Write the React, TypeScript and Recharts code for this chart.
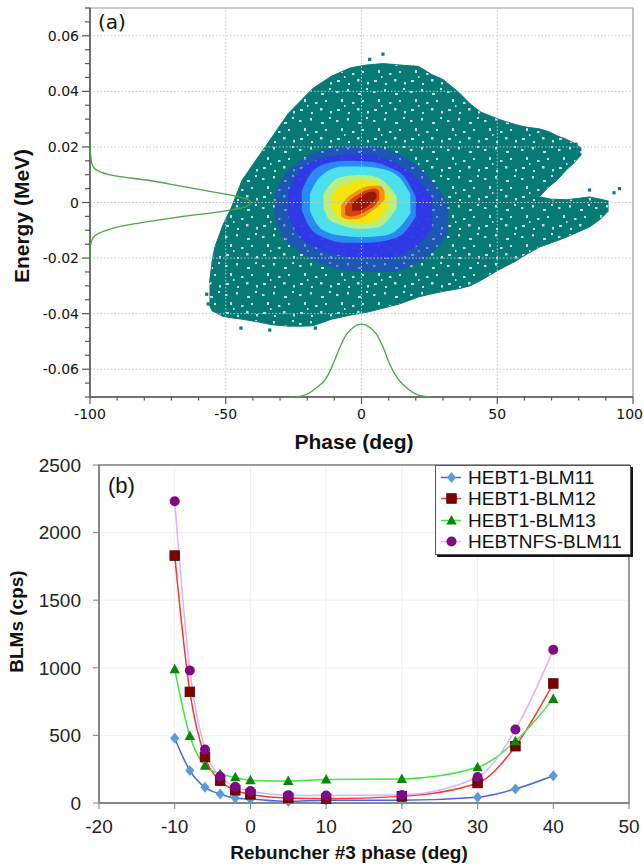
import React from "react";
import {
  ComposedChart,
  LineChart,
  Line,
  Area,
  Scatter,
  XAxis,
  YAxis,
  CartesianGrid,
  ReferenceLine,
  ReferenceArea,
  Legend,
  Customized,
} from "recharts";

// ---------- panel (a): phase space ----------
const phaseTicks = [-100, -90, -80, -70, -60, -50, -40, -30, -20, -10, 0, 10, 20, 30, 40, 50, 60, 70, 80, 90, 100];
const phaseLabels = [-100, -50, 0, 50, 100];
const energyTicks = [
  -0.07, -0.065, -0.06, -0.055, -0.05, -0.045, -0.04, -0.035, -0.03, -0.025, -0.02, -0.015, -0.01, -0.005, 0,
  0.005, 0.01, 0.015, 0.02, 0.025, 0.03, 0.035, 0.04, 0.045, 0.05, 0.055, 0.06, 0.065, 0.07,
];
const energyLabels = [-0.06, -0.04, -0.02, 0, 0.02, 0.04, 0.06];

// [phase, low energy, high energy] envelopes
const tealBody = [
  [-56, -0.037, -0.029], [-55, -0.039, -0.021], [-54, -0.0395, -0.016], [-51, -0.041, -0.008],
  [-48, -0.0415, -0.002], [-44, -0.042, 0.008], [-38, -0.043, 0.0165], [-33, -0.044, 0.0235],
  [-27, -0.0445, 0.032], [-22, -0.0445, 0.037], [-18, -0.0444, 0.041], [-11, -0.042, 0.0455],
  [-4, -0.0405, 0.0485], [2, -0.0395, 0.0495], [8, -0.038, 0.05], [14, -0.0365, 0.0495],
  [21, -0.034, 0.049], [26, -0.0328, 0.046], [30, -0.032, 0.0443], [36, -0.031, 0.0395],
  [40, -0.03, 0.0355], [44, -0.028, 0.0325], [51, -0.024, 0.0298], [57, -0.021, 0.028],
  [61, -0.0185, 0.027], [62, -0.018, 0.003], [65.6, -0.016, 0.002], [70, -0.0145, 0.0012],
  [75.4, -0.0125, 0.001], [80, -0.0105, 0.0015], [84, -0.0088, 0.002], [88, -0.006, 0.0012],
  [91, -0.003, 0.0005],
];
const tealWing = [
  [60, 0.003, 0.0272], [65.6, 0.0022, 0.0265], [69, 0.0057, 0.0255], [72, 0.008, 0.024],
  [75.4, 0.0117, 0.0228], [78, 0.014, 0.0215], [81, 0.0172, 0.0195],
];
const blueSparse = [
  [-32, -0.005, 0.003], [-29, -0.012, 0.009], [-24, -0.017, 0.014], [-17, -0.021, 0.018],
  [-8, -0.024, 0.02], [0, -0.025, 0.0205], [10, -0.025, 0.019], [18, -0.023, 0.015],
  [25, -0.019, 0.009], [29, -0.015, 0.004], [32, -0.011, -0.001],
];
const blueDense = [
  [-27, -0.005, 0.004], [-23, -0.012, 0.011], [-17, -0.016, 0.015], [-8, -0.019, 0.017],
  [0, -0.02, 0.0175], [8, -0.02, 0.016], [16, -0.018, 0.012], [22, -0.014, 0.007], [26, -0.009, 0.002],
];
const skyRing = [
  [-22, -0.003, 0.004], [-19, -0.009, 0.01], [-13, -0.013, 0.014], [-6, -0.0145, 0.015],
  [2, -0.0145, 0.0148], [10, -0.0135, 0.0128], [16, -0.0105, 0.009], [20, -0.005, 0.002],
];
const cyanRing = [
  [-19, -0.003, 0.003], [-17, -0.007, 0.007], [-13, -0.0105, 0.011], [-7, -0.012, 0.013],
  [0, -0.0125, 0.013], [8, -0.012, 0.012], [14, -0.009, 0.009], [18, -0.004, 0.003],
];
const limeRing = [
  [-14, -0.002, 0.003], [-12, -0.006, 0.006], [-8, -0.008, 0.009], [0, -0.0095, 0.01],
  [6, -0.009, 0.009], [10, -0.006, 0.006], [13, -0.002, 0.002],
];
const yellowCore = [
  [-11, -0.002, 0.002], [-9, -0.005, 0.005], [-5, -0.007, 0.007], [0, -0.0075, 0.008],
  [5, -0.007, 0.0075], [8, -0.004, 0.005], [10, -0.001, 0.002],
];
const orangeCore = [
  [-7.5, -0.005, -0.001], [-5, -0.006, 0.002], [-2, -0.006, 0.004], [1, -0.005, 0.0055],
  [4, -0.003, 0.006], [7, -0.0005, 0.006], [8.5, 0.001, 0.004],
];
const redCore = [
  [-6, -0.0045, -0.0015], [-4, -0.005, 0.001], [-1, -0.0045, 0.003], [2, -0.003, 0.0045],
  [5, -0.001, 0.005], [6.5, 0.001, 0.004],
];
const darkCore = [
  [-3.5, -0.003, -0.0005], [-1, -0.003, 0.0015], [2, -0.0015, 0.0035], [4.5, 0.0005, 0.004],
  [5.5, 0.0015, 0.003],
];
const strayParticles = [
  [7.9, 0.0534], [3, 0.0515], [95, 0.005], [93, 0.0035], [90, -0.0025], [-44.4, -0.0452],
  [-33.8, -0.0459], [-17, -0.0452], [-57, -0.033], [-56.5, -0.0365], [84, 0.0045], [79, 0.021],
];

// projections (energy profile on the left, phase profile at the bottom)
const energyProfile = [
  [-100, 0.0214], [-99.6, 0.0155], [-98.8, 0.0128], [-96.4, 0.0111], [-93, 0.01], [-89, 0.0093],
  [-79.3, 0.0081], [-67.1, 0.006], [-54.9, 0.0038], [-46.4, 0.0023], [-42.2, 0.0012], [-40.9, 0.0002],
  [-42.7, -0.0016], [-50, -0.003], [-67, -0.0052], [-83, -0.0076], [-90, -0.0089], [-94, -0.01],
  [-97, -0.0112], [-98.8, -0.0125], [-99.6, -0.0145], [-100, -0.0165], [-100, -0.0209],
];
const phaseProfile = [
  [-25, -0.07], [-20.3, -0.0691], [-16.6, -0.0667], [-12.9, -0.0631], [-10.5, -0.0582], [-8, -0.0522],
  [-5.5, -0.0474], [-3.1, -0.045], [0, -0.0438], [3.1, -0.045], [5.5, -0.0474], [8, -0.0522],
  [10.4, -0.0582], [13.5, -0.0636], [17.2, -0.0672], [20.9, -0.0693], [25.2, -0.07],
];

// ---------- panel (b): BLM scan ----------
const rebuncherPhase = [-10, -8, -6, -4, -2, 0, 5, 10, 20, 30, 35, 40];
const hebt1Blm11 = [479, 240, 116, 67, 37, 30, 12, 20, 20, 42, 104, 202];
const hebt1Blm12 = [1830, 822, 340, 165, 94, 64, 37, 32, 49, 148, 420, 884];
const hebt1Blm13 = [990, 495, 276, 215, 190, 168, 163, 173, 178, 264, 457, 770];
const hebtnfsBlm11 = [2232, 980, 395, 196, 120, 88, 58, 55, 60, 192, 543, 1133];
const scanTicks = [-20, -10, 0, 10, 20, 30, 40, 50];
const blmTicks = [0, 500, 1000, 1500, 2000, 2500];

const ARIAL = "'Liberation Sans', Arial, sans-serif";
const DEJAVU = "'DejaVu Sans', Verdana, sans-serif";
const TEAL = "#077a76";

const band = (rows: number[][]) => rows.map(([x, lo, hi]) => ({ x, band: [lo, hi] }));
const pts = (rows: number[][]) => rows.map(([x, y]) => ({ x, y }));

const densityLayers = [
  { id: "teal", rows: tealBody, color: "url(#speckle)", edge: TEAL, opacity: 1 },
  { id: "wing", rows: tealWing, color: "url(#speckle)", edge: TEAL, opacity: 1 },
  { id: "blue1", rows: blueSparse, color: "#3234ee", edge: "none", opacity: 0.5 },
  { id: "blue2", rows: blueDense, color: "#3234ee", edge: "none", opacity: 0.85 },
  { id: "sky", rows: skyRing, color: "#2a8ef4", edge: "none", opacity: 0.95 },
  { id: "cyan", rows: cyanRing, color: "#4ae0ec", edge: "none", opacity: 1 },
  { id: "lime", rows: limeRing, color: "#b8ef80", edge: "none", opacity: 1 },
  { id: "yellow", rows: yellowCore, color: "#f3e60e", edge: "none", opacity: 1 },
  { id: "orange", rows: orangeCore, color: "#f09414", edge: "none", opacity: 1 },
  { id: "red", rows: redCore, color: "#d8400e", edge: "none", opacity: 1 },
  { id: "dark", rows: darkCore, color: "#961808", edge: "none", opacity: 1 },
];

// white gaps in the speckle texture: [x, y, w, h] inside one tile
const speckles = [
  [3, 4, 2.5, 2], [14, 2, 2, 2.5], [25, 6, 3, 2], [33, 1, 2, 2], [8, 12, 2, 3], [19, 15, 2.5, 2],
  [29, 13, 2, 2], [4, 22, 3, 2], [15, 25, 2, 2], [24, 21, 2.5, 2.5], [34, 24, 2, 2.5], [11, 18, 1.5, 2],
];

const blmRows = rebuncherPhase.map((p, i) => ({
  phase: p,
  blm11: hebt1Blm11[i],
  blm12: hebt1Blm12[i],
  blm13: hebt1Blm13[i],
  nfs11: hebtnfsBlm11[i],
}));

const blmSeries = [
  { key: "blm11", name: "HEBT1-BLM11", line: "#4563e6", fill: "#5b9bd5", marker: "diamond" },
  { key: "blm12", name: "HEBT1-BLM12", line: "#ff3434", fill: "#7f0000", marker: "square" },
  { key: "blm13", name: "HEBT1-BLM13", line: "#3ee83e", fill: "#0a860a", marker: "triangle" },
  { key: "nfs11", name: "HEBTNFS-BLM11", line: "#d6b4fb", fill: "#7e0a86", marker: "circle" },
];

const near = (list: number[], v: number) => list.some((m) => Math.abs(m - v) < 1e-9);

function PhaseTick(props: any) {
  const { x, y, payload } = props;
  const major = near(phaseLabels, payload.value);
  const last = payload.value === 100;
  return (
    <g>
      <line x1={x} y1={y} x2={x} y2={y + (major ? 7 : 3.5)} stroke="#555" strokeWidth={1.2} />
      {major && (
        <text
          x={last ? x + 10 : x}
          y={y + 21.5}
          textAnchor={last ? "end" : "middle"}
          fontFamily={DEJAVU}
          fontSize={14}
          fill="#111"
        >
          {String(payload.value)}
        </text>
      )}
    </g>
  );
}

function EnergyTick(props: any) {
  const { x, y, payload } = props;
  const major = near(energyLabels, payload.value);
  return (
    <g>
      <line x1={x} y1={y} x2={x - (major ? 8 : 5)} y2={y} stroke="#555" strokeWidth={1.2} />
      {major && (
        <text x={x - 11} y={y + 5} textAnchor="end" fontFamily={DEJAVU} fontSize={14} fill="#111">
          {String(Math.abs(payload.value) < 1e-12 ? 0 : payload.value)}
        </text>
      )}
    </g>
  );
}

const NoDot = () => <g />;
const Particle = (props: any) => <rect x={props.cx - 1.6} y={props.cy - 1.6} width={3.2} height={3.2} fill={TEAL} />;

function Marker({ kind, cx, cy, fill }: { kind: string; cx: number; cy: number; fill: string }) {
  if (kind === "diamond")
    return <polygon points={`${cx},${cy - 5.5} ${cx + 4.5},${cy} ${cx},${cy + 5.5} ${cx - 4.5},${cy}`} fill={fill} />;
  if (kind === "square")
    return <rect x={cx - 4.8} y={cy - 4.8} width={9.6} height={9.6} fill={fill} stroke="#560000" strokeWidth={0.8} />;
  if (kind === "triangle")
    return <polygon points={`${cx},${cy - 5.5} ${cx + 5.2},${cy + 4} ${cx - 5.2},${cy + 4}`} fill={fill} />;
  return <circle cx={cx} cy={cy} r={5} fill={fill} />;
}

function BlmLegend() {
  return (
    <div
      style={{
        border: "1px solid #555",
        boxShadow: "2px 2px 0 #151515",
        background: "#fff",
        padding: "1px 0 2px",
        fontFamily: ARIAL,
        fontSize: 19,
        lineHeight: "21.3px",
        color: "#111",
      }}
    >
      {blmSeries.map((s) => (
        <div key={s.key} style={{ display: "flex", alignItems: "center", whiteSpace: "nowrap" }}>
          <svg width={32} height={21} style={{ flex: "none" }}>
            <line x1={5} x2={25} y1={10.5} y2={10.5} stroke={s.line} strokeWidth={1.5} />
            <Marker kind={s.marker} cx={15.5} cy={10.5} fill={s.fill} />
          </svg>
          <span>{s.name}</span>
        </div>
      ))}
    </div>
  );
}

// speckle texture for the low-density part of the particle cloud
const TopDecor = () => (
  <g>
    <defs>
      <pattern id="speckle" width={37} height={29} patternUnits="userSpaceOnUse">
        <rect width={37} height={29} fill={TEAL} />
        {speckles.map(([x, y, w, h], i) => (
          <rect key={i} x={x} y={y} width={w} height={h} fill="#fff" opacity={0.75} />
        ))}
      </pattern>
    </defs>
    <text x={98} y={29} fontFamily={DEJAVU} fontSize={20} fill="#111">(a)</text>
    <text x={354} y={449} textAnchor="middle" fontFamily={ARIAL} fontWeight="bold" fontSize={21} fill="#111">
      Phase (deg)
    </text>
    <text
      x={29}
      y={216}
      transform="rotate(-90 29 216)"
      textAnchor="middle"
      fontFamily={ARIAL}
      fontWeight="bold"
      fontSize={21}
      fill="#111"
    >
      Energy (MeV)
    </text>
  </g>
);

const BottomTitles = () => (
  <g>
    <text x={108} y={38} fontFamily={ARIAL} fontSize={22} fill="#111">(b)</text>
    <text x={349} y={404} textAnchor="middle" fontFamily={ARIAL} fontWeight="bold" fontSize={19} fill="#111">
      Rebuncher #3 phase (deg)
    </text>
    <text
      x={22.5}
      y={166.5}
      transform="rotate(-90 22.5 166.5)"
      textAnchor="middle"
      fontFamily={ARIAL}
      fontWeight="bold"
      fontSize={19}
      fill="#111"
    >
      BLMs (cps)
    </text>
  </g>
);

function PhaseSpacePanel() {
  return (
    <ComposedChart width={644} height={460} margin={{ top: 8, right: 11, bottom: 33, left: 30 }}>
      <XAxis
        type="number"
        dataKey="x"
        domain={[-100, 100]}
        ticks={phaseTicks}
        interval={0}
        tick={<PhaseTick />}
        tickLine={false}
        tickSize={0}
        tickMargin={0}
        axisLine={{ stroke: "#555", strokeWidth: 1.5 }}
        height={30}
        allowDataOverflow
      />
      <YAxis
        type="number"
        dataKey="y"
        domain={[-0.07, 0.07]}
        ticks={energyTicks}
        interval={0}
        tick={<EnergyTick />}
        tickLine={false}
        tickSize={0}
        tickMargin={0}
        axisLine={{ stroke: "#555", strokeWidth: 1.5 }}
        width={60}
        allowDataOverflow
      />
      {densityLayers.map((l) => (
        <Area
          key={l.id}
          data={band(l.rows)}
          dataKey="band"
          type={l.id === "teal" || l.id === "wing" ? "linear" : "monotone"}
          fill={l.color}
          fillOpacity={l.opacity}
          stroke={l.edge}
          strokeWidth={1}
          dot={false}
          activeDot={false}
          isAnimationActive={false}
        />
      ))}
      <Scatter data={pts(strayParticles)} shape={<Particle />} isAnimationActive={false} />
      {phaseLabels.slice(1, 4).map((v) => (
        <ReferenceLine key={`gx${v}`} x={v} stroke="#c4c4c4" strokeDasharray="1.5 2" />
      ))}
      {energyLabels.map((v) => (
        <ReferenceLine key={`gy${v}`} y={v} stroke="#c4c4c4" strokeDasharray="1.5 2" />
      ))}
      <Scatter
        data={pts(energyProfile)}
        shape={<NoDot />}
        fill="#46a646"
        line={{ stroke: "#46a646", strokeWidth: 1.3 }}
        lineJointType="monotoneY"
        isAnimationActive={false}
      />
      <Scatter
        data={pts(phaseProfile)}
        shape={<NoDot />}
        fill="#46a646"
        line={{ stroke: "#46a646", strokeWidth: 1.3 }}
        lineJointType="monotoneX"
        isAnimationActive={false}
      />
      <ReferenceArea x1={-100} x2={100} y1={-0.07} y2={0.07} fill="none" stroke="#9a9a9a" strokeWidth={1.2} />
      <Customized component={TopDecor} />
    </ComposedChart>
  );
}

function BlmPanel() {
  return (
    <LineChart width={644} height={412} data={blmRows} margin={{ top: 10, right: 15, bottom: 34, left: 29 }}>
      <CartesianGrid stroke="#efefef" />
      <XAxis
        type="number"
        dataKey="phase"
        domain={[-20, 50]}
        ticks={scanTicks}
        interval={0}
        tick={{ fontSize: 19, fill: "#222", fontFamily: ARIAL }}
        tickSize={6}
        tickMargin={11}
        tickLine={{ stroke: "#808080" }}
        axisLine={{ stroke: "#808080", strokeWidth: 1.5 }}
        height={30}
      />
      <YAxis
        type="number"
        domain={[0, 2500]}
        ticks={blmTicks}
        interval={0}
        tick={{ fontSize: 19, fill: "#222", fontFamily: ARIAL }}
        tickSize={6}
        tickMargin={12}
        tickLine={{ stroke: "#808080" }}
        axisLine={{ stroke: "#808080", strokeWidth: 1.5 }}
        width={70}
      />
      <ReferenceArea x1={-20} x2={50} y1={0} y2={2500} fill="none" stroke="#808080" strokeWidth={1.5} />
      {blmSeries.map((s) => (
        <Line
          key={s.key}
          dataKey={s.key}
          name={s.name}
          type="monotone"
          stroke={s.line}
          strokeWidth={1.5}
          dot={(p: any) => <Marker key={`${s.key}-${p.index}`} kind={s.marker} cx={p.cx} cy={p.cy} fill={s.fill} />}
          activeDot={false}
          isAnimationActive={false}
        />
      ))}
      <Legend
        layout="horizontal"
        verticalAlign="middle"
        align="center"
        content={<BlmLegend />}
        wrapperStyle={{ top: 10, left: 435, width: 196, height: 87, margin: 0 }}
      />
      <Customized component={BottomTitles} />
    </LineChart>
  );
}

export default function App() {
  return (
    <div style={{ position: "absolute", left: 0, top: 0, width: 644, height: 867, background: "#fff" }}>
      <div style={{ position: "absolute", left: 0, top: 0 }}>
        <PhaseSpacePanel />
      </div>
      <div style={{ position: "absolute", left: 0, top: 455 }}>
        <BlmPanel />
      </div>
    </div>
  );
}
